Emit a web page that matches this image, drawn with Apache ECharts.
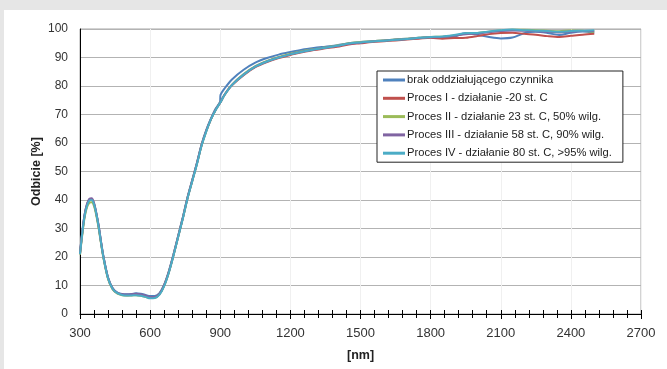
<!DOCTYPE html>
<html><head><meta charset="utf-8">
<script src="https://cdn.jsdelivr.net/npm/echarts@6/dist/echarts.min.js"></script>
<style>
html,body{margin:0;padding:0;background:#e6e6e6;}
#panel{position:absolute;left:4px;top:10px;right:0;bottom:0;background:#fff;}
#chart{position:absolute;left:0;top:0;width:667px;height:369px;}
</style></head>
<body><div id="panel"></div><div id="chart"></div>
<script>
var wavelengths = [300,310,320,330,340,350,360,370,380,390,400,420,440,460,480,500,520,540,560,580,600,620,640,660,680,700,720,740,760,780,800,820,840,860,880,899,901,920,950,1000,1050,1100,1150,1200,1250,1300,1350,1400,1450,1500,1550,1600,1650,1700,1750,1800,1850,1900,1950,2000,2050,2100,2150,2200,2250,2300,2350,2400,2450,2500];
var seriesNames = ['brak oddziałującego czynnika','Proces I - działanie -20 st. C','Proces II - działanie 23 st. C, 50% wilg.','Proces III - działanie 58 st. C, 90% wilg.','Proces IV - działanie 80 st. C, >95% wilg.'];
var brak = [21.5,29,35,38.5,40.2,40.3,38.7,35.2,30.8,25.3,20.3,12.8,9.0,7.5,7.0,6.9,7.0,7.3,7.1,6.7,6.3,6.3,7.3,10.3,15,21,27.5,34,41,47,53,59.5,64.5,68.5,72,74.5,76.8,79.3,82.3,85.7,88.2,89.8,91.0,91.9,92.7,93.3,93.8,94.3,95.0,95.4,95.7,96.0,96.3,96.6,96.9,97.1,96.8,97.3,98.6,98.0,97.2,96.7,97.0,98.5,99.0,98.6,97.9,98.7,99.1,98.6];
var proces1 = [21,28.5,34.5,38.2,40,40,38.5,35,30.5,25,20,12.5,8.8,7.3,6.8,6.6,6.7,6.8,6.6,6.2,5.8,5.9,7.0,10,14.7,20.7,27.2,33.7,40.7,46.7,52.7,59.2,64.2,68.3,71.6,74,74.3,77,80.2,83.8,86.6,88.4,89.8,90.9,91.8,92.6,93.2,93.8,94.6,95.0,95.4,95.7,96.0,96.3,96.6,96.9,96.6,96.8,96.9,97.5,98.2,98.6,98.7,98.3,98.0,97.5,97.2,97.6,98.0,98.3];
var proces2 = [20.8,28,34,37.5,39,39.2,37.8,34.5,30,24.7,19.8,12.3,8.6,7.1,6.6,6.5,6.5,6.6,6.4,6.0,5.6,5.7,6.9,9.9,14.6,20.6,27.1,33.6,40.6,46.6,52.6,59.1,64.1,68.3,71.6,74.1,74.4,77.2,80.5,84.2,87.0,88.8,90.2,91.3,92.2,92.9,93.5,94.2,95.0,95.4,95.7,96.0,96.3,96.6,96.9,97.2,97.3,97.7,98.3,98.6,99.0,99.5,99.7,99.7,99.6,99.4,99.2,99.5,99.4,99.0];
var proces3 = [21.2,29,35,38.7,40.4,40.6,39,35.4,30.9,25.4,20.3,12.7,8.9,7.4,6.9,6.8,6.9,7.1,6.9,6.5,6.0,6.0,7.1,10.1,14.8,20.8,27.3,33.8,40.8,46.8,52.8,59.3,64.3,68.4,71.7,74.1,74.4,77.2,80.4,84.0,86.8,88.6,90.0,91.1,92.0,92.8,93.4,94.0,94.8,95.2,95.6,95.9,96.2,96.5,96.8,97.1,97.2,97.6,98.2,98.4,98.9,99.3,99.5,99.4,99.2,99.0,98.8,99.1,99.3,99.3];
var proces4 = [21,28.5,34.5,38,39.8,40,38.5,35,30.5,25,20,12.5,8.8,7.3,6.7,6.5,6.5,6.6,6.4,6.0,5.5,5.6,6.8,9.8,14.5,20.5,27,33.5,40.5,46.5,52.5,59,64,68.3,71.5,74,74.3,77,80.3,84,86.8,88.6,90,91.1,92,92.8,93.4,94.1,94.9,95.3,95.6,95.9,96.2,96.5,96.9,97.2,97.4,97.9,98.5,98.6,99.1,99.6,99.8,99.6,99.4,99.3,99.0,99.3,99.4,99.6];
var colors = ['#4F81BD','#C0504D','#9BBB59','#8064A2','#4BACC6'];
var allValues = [brak, proces1, proces2, proces3, proces4];

var chart = echarts.init(document.getElementById('chart'), null, {renderer:'canvas'});
var font = 'Liberation Sans';
var series = allValues.map(function(vals, i){
  return {
    name: seriesNames[i], type:'line', xAxisIndex:0, yAxisIndex:0,
    data: wavelengths.map(function(w, j){ return [w, vals[j]]; }),
    showSymbol:false, smooth:0.3,
    lineStyle:{color:colors[i], width:2}, itemStyle:{color:colors[i]},
    animation:false
  };
});
function plain(v){ return String(v); }
chart.setOption({
  animation:false,
  textStyle:{fontFamily:font},
  grid:{left:80, top:29, right:26, bottom:55, show:true, borderColor:'#a6a6a6', borderWidth:1},
  legend:{
    orient:'vertical', left:377, top:71, data:seriesNames,
    backgroundColor:'#fff', borderColor:'#222', borderWidth:1,
    padding:[2,11,2,6], itemGap:4.3, itemWidth:22, itemHeight:3, icon:'rect',
    textStyle:{fontFamily:font, fontSize:11.2, color:'#222', lineHeight:14, padding:[0,0,0,-3]}
  },
  xAxis:[{
    type:'value', min:300, max:2700, interval:300,
    name:'[nm]', nameLocation:'middle', nameGap:35, nameMoveOverlap:false,
    nameTextStyle:{fontFamily:font, fontSize:12.5, fontWeight:'bold', color:'#222'},
    axisLine:{show:true, lineStyle:{color:'#000', width:1}},
    axisTick:{show:true, length:5, lineStyle:{color:'#000'}},
    minorTick:{show:true, splitNumber:5, length:4, lineStyle:{color:'#000'}},
    axisLabel:{fontFamily:font, fontSize:13, color:'#333', margin:13, formatter:plain},
    splitLine:{show:true, lineStyle:{color:'#f0f0f0', width:1}}
  },{
    type:'value', min:300, max:2700, interval:300, position:'bottom',
    axisLine:{show:false},
    axisTick:{show:true, inside:true, length:4, lineStyle:{color:'#000'}},
    minorTick:{show:true, splitNumber:5, length:4, lineStyle:{color:'#000'}},
    axisLabel:{show:false}, splitLine:{show:false}
  }],
  yAxis:{
    type:'value', min:0, max:100, interval:10,
    name:'Odbicie [%]', nameLocation:'middle', nameGap:37, nameMoveOverlap:false,
    nameTextStyle:{fontFamily:font, fontSize:12.5, fontWeight:'bold', color:'#222'},
    axisLine:{show:true, lineStyle:{color:'#000', width:1}},
    axisTick:{show:false},
    axisLabel:{fontFamily:font, fontSize:12, color:'#333', margin:12, formatter:plain},
    splitLine:{show:true, lineStyle:{color:'#b3b3b3', width:1}}
  },
  series: series
});
</script></body></html>
